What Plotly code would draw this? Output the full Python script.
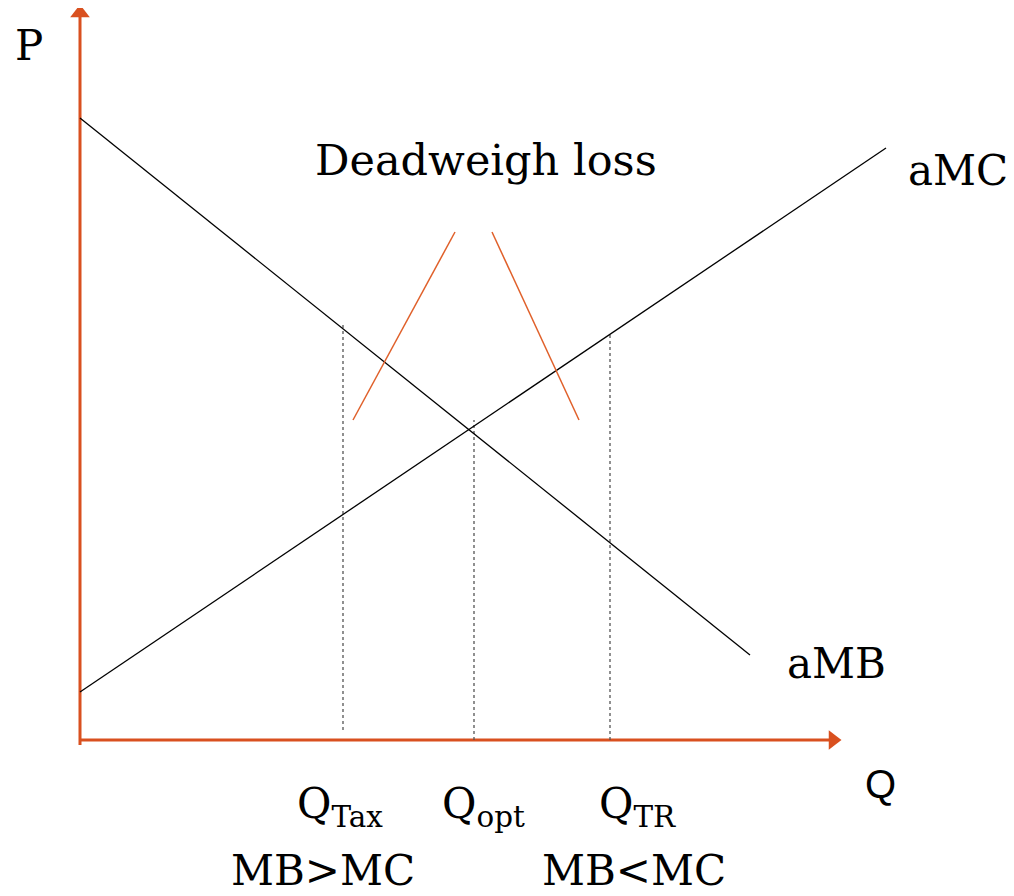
import plotly.graph_objects as go

# Coordinates: Q (quantity) horizontal, P (price) vertical; origin at the axes' corner
amb_q = [0, 670]
amb_p = [622, 85]
amc_q = [0, 806]
amc_p = [48, 592]

# vertical dotted lines: quantity, top price, bottom price
q_levels = [263, 394, 530]
q_tops = [418, 320, 408]
q_bottoms = [10, 0, 0]
q_labels = ["Q<sub>Tax</sub>", "Q<sub>opt</sub>", "Q<sub>TR</sub>"]
q_label_x = [260, 403, 557]

# deadweight-loss pointer lines
dwl_left_q = [273, 375]
dwl_left_p = [320, 508]
dwl_right_q = [412, 499]
dwl_right_p = [508, 320]

# axis extents
yaxis_top = 735
xaxis_end = 761

AX = "#D9501F"
FONT = "DejaVu Serif"

fig = go.Figure()

# axes lines
fig.add_trace(go.Scatter(x=[0, 0], y=[-5, yaxis_top - 12], mode="lines",
                         line=dict(color=AX, width=3), hoverinfo="skip"))
fig.add_trace(go.Scatter(x=[0, xaxis_end - 12], y=[0, 0], mode="lines",
                         line=dict(color=AX, width=3), hoverinfo="skip"))
# arrow heads
fig.add_trace(go.Scatter(x=[0], y=[yaxis_top - 8], mode="markers",
                         marker=dict(symbol="triangle-up", size=17, color=AX, line=dict(width=0)),
                         hoverinfo="skip"))
fig.add_trace(go.Scatter(x=[xaxis_end - 8], y=[0], mode="markers",
                         marker=dict(symbol="triangle-right", size=17, color=AX, line=dict(width=0)),
                         hoverinfo="skip"))

# dotted verticals
for q, top, bot in zip(q_levels, q_tops, q_bottoms):
    fig.add_trace(go.Scatter(x=[q, q], y=[bot, top], mode="lines",
                             line=dict(color="#555555", width=1.3, dash="dot"), hoverinfo="skip"))

# curves
fig.add_trace(go.Scatter(x=amb_q, y=amb_p, mode="lines",
                         line=dict(color="black", width=1.3), hoverinfo="skip"))
fig.add_trace(go.Scatter(x=amc_q, y=amc_p, mode="lines",
                         line=dict(color="black", width=1.3), hoverinfo="skip"))

# DWL pointers
fig.add_trace(go.Scatter(x=dwl_left_q, y=dwl_left_p, mode="lines",
                         line=dict(color="#E0602A", width=1.5), hoverinfo="skip"))
fig.add_trace(go.Scatter(x=dwl_right_q, y=dwl_right_p, mode="lines",
                         line=dict(color="#E0602A", width=1.5), hoverinfo="skip"))

ann = []
def txt(x, y, s, size, xanchor="center", family=FONT):
    ann.append(dict(x=x, y=y, text=s, showarrow=False, xanchor=xanchor, yanchor="middle",
                    font=dict(family=family, size=size, color="black")))

txt(-51, 695, "P", 42)
txt(406, 580, "Deadweigh loss", 43)
txt(826, 570, "aMC", 42, xanchor="left")
txt(705, 77, "aMB", 42, xanchor="left")
txt(800, -44, "Q", 40, family="Liberation Sans")
for x, s in zip(q_label_x, q_labels):
    txt(x, -66, s, 42)
txt(243, -130, "MB&gt;MC", 42)
txt(554, -130, "MB&lt;MC", 42)

fig.update_layout(
    width=1014, height=896,
    margin=dict(l=0, r=0, t=0, b=0),
    paper_bgcolor="white", plot_bgcolor="white",
    showlegend=False,
    annotations=ann,
    xaxis=dict(range=[-72, 942], visible=False, fixedrange=True),
    yaxis=dict(range=[-164, 732], visible=False, fixedrange=True),
)

fig.write_html("out.html")
